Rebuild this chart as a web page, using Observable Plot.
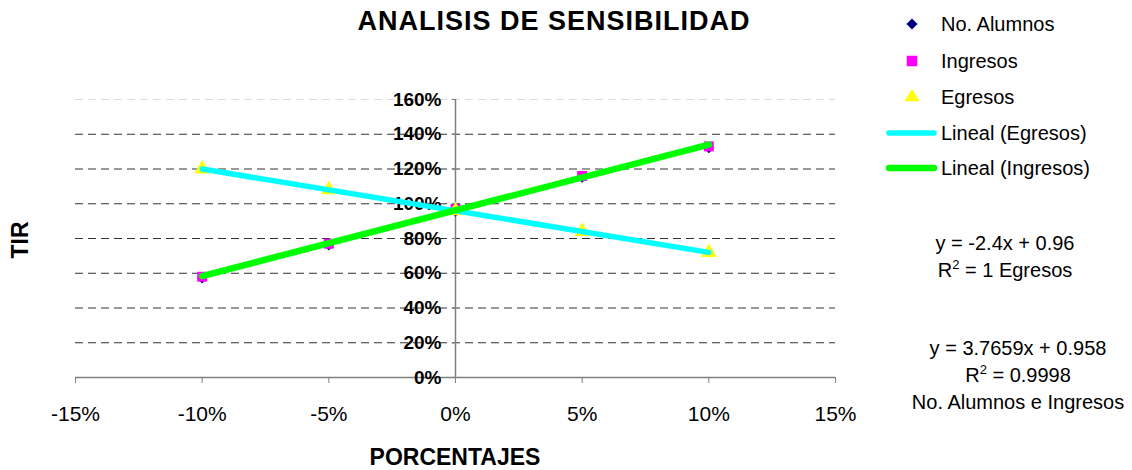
<!DOCTYPE html>
<html>
<head>
<meta charset="utf-8">
<script src="https://cdn.jsdelivr.net/npm/d3@7"></script>
<script src="https://cdn.jsdelivr.net/npm/@observablehq/plot@0.6"></script>
<style>
  html, body { margin: 0; padding: 0; background: #fff; }
  #wrap { position: relative; width: 1132px; height: 470px; font-family: "Liberation Sans", Arial, sans-serif; }
  #wrap > svg { position: absolute; left: 0; top: 0; }
</style>
</head>
<body>
<div id="wrap"></div>
<script>
// ---- data ----
const pcts     = [-0.10, -0.05, 0, 0.05, 0.10];
const alumnos  = [0.57, 0.76, 0.955, 1.15, 1.32];
const ingresos = [0.58, 0.77, 0.97, 1.16, 1.33];
const egresos  = [1.20, 1.08, 0.96, 0.84, 0.72];
const xTicks   = [-0.15, -0.10, -0.05, 0, 0.05, 0.10, 0.15];
const yTicks   = [0, 0.2, 0.4, 0.6, 0.8, 1.0, 1.2, 1.4, 1.6];
const gridTicks = [0.2, 0.4, 0.6, 0.8, 1.0, 1.2, 1.4, 1.6];
const seriesNames = ["No. Alumnos", "Ingresos", "Egresos", "Lineal (Egresos)", "Lineal (Ingresos)"];
const eqEgresos = ["y = -2.4x + 0.96", "R|2| = 1 Egresos"];
const eqIngresos = ["y = 3.7659x + 0.958", "R|2| = 0.9998", "No. Alumnos e Ingresos"];

const colors = {alumnos: "#000080", ingresos: "#FF00FF", egresos: "#FFFF00", linE: "#00FFFF", linI: "#00FF00"};

const rows = (ys) => pcts.map((x, i) => ({x, y: ys[i]}));
const dA = rows(alumnos), dI = rows(ingresos), dE = rows(egresos);
const pct = d => Math.round(d * 100) + "%";

const chart = Plot.plot({
  width: 1132, height: 470,
  marginLeft: 75, marginRight: 297, marginTop: 99, marginBottom: 93,
  x: {domain: [-0.15, 0.15]},
  y: {domain: [0, 1.6], axis: null},
  style: {fontFamily: "'Liberation Sans', Arial, sans-serif", background: "transparent", overflow: "visible"},
  marks: [
    Plot.ruleY(gridTicks, {y: d => d, stroke: d => d === 1.6 ? "#dddddd" : "#333333", strokeDasharray: "8,5", strokeWidth: 1}),
    Plot.ruleY([0], {stroke: "#808080", strokeWidth: 1.5}),
    Plot.ruleX([0], {y1: 0, y2: 1.6, stroke: "#808080", strokeWidth: 1.5}),
    Plot.ruleY(yTicks, {y: d => d, x1: -0.0013, x2: 0, stroke: "#808080", strokeWidth: 1.2}),
    Plot.axisX({ticks: xTicks, tickFormat: pct, tickSize: 6, tickPadding: 23, fontSize: 21, stroke: "#808080", label: null}),
    Plot.text(yTicks, {x: d => 0, y: d => d, text: pct, textAnchor: "end", dx: -14, fontWeight: "bold", fontSize: 19, fill: "black"}),
    Plot.dot(dA, {x: "x", y: "y", symbol: "diamond2", r: 4.6, fill: colors.alumnos, stroke: "none"}),
    Plot.dot(dI, {x: "x", y: "y", symbol: "square", r: 5.6, fill: colors.ingresos, stroke: "none"}),
    Plot.dot(dE, {x: "x", y: "y", symbol: "triangle", r: 5.8, fill: colors.egresos, stroke: "none"}),
    Plot.linearRegressionY(dE, {x: "x", y: "y", stroke: colors.linE, strokeWidth: 5.5, ci: 0, strokeLinecap: "round"}),
    Plot.linearRegressionY(dI, {x: "x", y: "y", stroke: colors.linI, strokeWidth: 6.5, ci: 0, strokeLinecap: "round"})
  ]
});
const wrap = document.getElementById("wrap");
wrap.appendChild(chart);

// ---- overlay: titles, legend, equations ----
const ov = d3.select(wrap).append("svg")
  .attr("width", 1132).attr("height", 470)
  .style("font-family", "'Liberation Sans', Arial, sans-serif");

ov.append("text").attr("x", 554).attr("y", 30).attr("text-anchor", "middle")
  .attr("font-size", 27).attr("font-weight", "bold").attr("letter-spacing", 1).text("ANALISIS DE SENSIBILIDAD");
ov.append("text").attr("transform", "translate(28,240) rotate(-90)").attr("text-anchor", "middle")
  .attr("font-size", 23).attr("font-weight", "bold").text("TIR");
ov.append("text").attr("x", 455).attr("y", 465).attr("text-anchor", "middle")
  .attr("font-size", 23).attr("font-weight", "bold").text("PORCENTAJES");

// legend
const legY = [24, 61, 97, 133, 168];
const sym = (type, size) => d3.symbol(type, size)();
const leg = ov.append("g");
leg.append("path").attr("transform", `translate(912,${legY[0]})`).attr("d", sym(d3.symbolDiamond2, 80)).attr("fill", colors.alumnos);
leg.append("path").attr("transform", `translate(912,${legY[1]})`).attr("d", sym(d3.symbolSquare, 110)).attr("fill", colors.ingresos);
leg.append("path").attr("transform", `translate(912,${legY[2]})`).attr("d", sym(d3.symbolTriangle, 95)).attr("fill", colors.egresos);
leg.append("line").attr("x1", 889).attr("x2", 934).attr("y1", legY[3]).attr("y2", legY[3])
  .attr("stroke", colors.linE).attr("stroke-width", 5.5).attr("stroke-linecap", "round");
leg.append("line").attr("x1", 889).attr("x2", 934).attr("y1", legY[4]).attr("y2", legY[4])
  .attr("stroke", colors.linI).attr("stroke-width", 6.5).attr("stroke-linecap", "round");
seriesNames.forEach((n, i) => {
  leg.append("text").attr("x", 941).attr("y", legY[i] + 7).attr("font-size", 20).text(n);
});

// equations
function eqLine(txt, x, y) {
  const t = ov.append("text").attr("x", x).attr("y", y).attr("text-anchor", "middle").attr("font-size", 20);
  const parts = txt.split("|");
  parts.forEach((p, i) => {
    const s = t.append("tspan").text(p);
    if (i % 2 === 1) s.attr("font-size", 13).attr("dy", -8);
    else if (i > 0) s.attr("dy", 8);
  });
}
eqEgresos.forEach((l, i) => eqLine(l, 1005, 250 + i * 27));
eqIngresos.forEach((l, i) => eqLine(l, 1018, 355 + i * 27));
</script>
</body>
</html>
